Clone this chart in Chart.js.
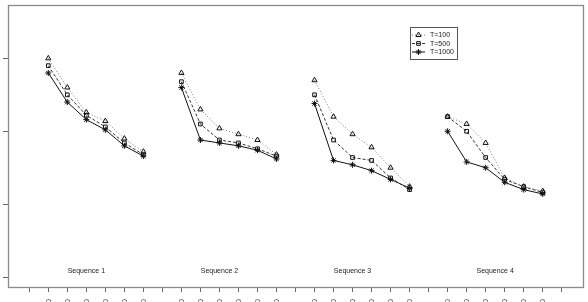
<!DOCTYPE html>
<html lang="en">
<head>
<meta charset="UTF-8">
<title>Sequences T=100 / 500 / 1000</title>
<script src="https://cdn.jsdelivr.net/npm/chart.js"></script>
<style>
  html, body { margin: 0; padding: 0; overflow: hidden; background: #fff; }
  #wrap { width: 588px; height: 320px; }
</style>
</head>
<body>
<div id="wrap"><canvas id="chart" width="588" height="320"></canvas></div>
<script>
// x positions 0..28, empty entries are the gaps between sequences
const categories = ["",
  "10", "20", "30", "40", "50", "60", "",
  "10", "20", "30", "40", "50", "60", "",
  "10", "20", "30", "40", "50", "60", "",
  "10", "20", "30", "40", "50", "60", ""];

const seqLabels = ["Sequence 1", "Sequence 2", "Sequence 3", "Sequence 4"];
const seqCentres = [3, 10, 17, 24.5];
const yTicks = [0, 0.5, 1, 1.5];

const t100 = [null,
  1.50, 1.30, 1.13, 1.07, 0.95, 0.86, null,
  1.40, 1.15, 1.02, 0.98, 0.94, 0.84, null,
  1.35, 1.10, 0.98, 0.89, 0.75, 0.62, null,
  1.10, 1.05, 0.92, 0.68, 0.62, 0.59, null];
const t500 = [null,
  1.45, 1.25, 1.11, 1.03, 0.92, 0.84, null,
  1.34, 1.05, 0.94, 0.92, 0.88, 0.83, null,
  1.25, 0.94, 0.82, 0.80, 0.68, 0.60, null,
  1.10, 1.00, 0.82, 0.67, 0.62, 0.58, null];
const t1000 = [null,
  1.40, 1.20, 1.08, 1.01, 0.90, 0.83, null,
  1.30, 0.94, 0.92, 0.90, 0.87, 0.81, null,
  1.19, 0.80, 0.77, 0.73, 0.67, 0.61, null,
  1.00, 0.79, 0.75, 0.65, 0.60, 0.57, null];

const toPoints = (arr) => arr.map((v, i) => ({ x: i, y: v }));

const makeSet = (label, values, dash, style, radius, lineColor) => ({
  label: label,
  data: toPoints(values),
  borderColor: lineColor,
  borderWidth: 1,
  borderDash: dash,
  pointStyle: style,
  pointRadius: radius,
  pointBorderColor: "#111",
  pointBackgroundColor: "rgba(0,0,0,0)",
  pointBorderWidth: 1,
  fill: false,
  spanGaps: false,
  tension: 0
});

// frame, sequence captions and the boxed legend
const extras = {
  id: "extras",
  afterDraw(chart) {
    const ctx = chart.ctx;
    const a = chart.chartArea;
    const xs = chart.scales.x, ys = chart.scales.y;
    ctx.save();
    ctx.strokeStyle = "#8a8a8a";
    ctx.lineWidth = 1.3;
    ctx.strokeRect(Math.round(a.left) + 0.5, Math.round(a.top) + 0.5,
                   Math.round(a.right - a.left), Math.round(a.bottom - a.top));
    ctx.lineWidth = 1;

    ctx.fillStyle = "#222";
    ctx.font = "7px 'Liberation Sans', Arial, sans-serif";
    ctx.textAlign = "center";
    ctx.textBaseline = "middle";
    seqLabels.forEach((s, i) => {
      ctx.fillText(s, xs.getPixelForValue(seqCentres[i]), ys.getPixelForValue(0.04));
    });

    // legend
    ctx.strokeStyle = "#555";
    ctx.strokeRect(410.5, 27.5, 47, 32);
    ctx.textAlign = "left";
    chart.data.datasets.forEach((ds, i) => {
      const y = 35 + i * 8.5;
      ctx.strokeStyle = ds.borderColor;
      ctx.setLineDash(ds.borderDash);
      ctx.beginPath();
      ctx.moveTo(412, y);
      ctx.lineTo(425, y);
      ctx.stroke();
      ctx.setLineDash([]);
      ctx.strokeStyle = "#111";
      ctx.fillStyle = "rgba(0,0,0,0)";
      Chart.helpers.drawPoint(ctx, {
        pointStyle: ds.pointStyle,
        radius: ds.pointRadius,
        rotation: 0,
        borderWidth: 1
      }, 418.5, y);
      ctx.fillStyle = "#222";
      ctx.fillText(ds.label, 430, y + 0.5);
    });
    ctx.restore();
  }
};

new Chart(document.getElementById("chart"), {
  type: "line",
  data: {
    datasets: [
      makeSet("T=100", t100, [1, 2], "triangle", 3, "#777"),
      makeSet("T=500", t500, [3, 2], "rect", 2.6, "#333"),
      makeSet("T=1000", t1000, [], "star", 3, "#111")
    ]
  },
  options: {
    responsive: false,
    animation: false,
    layout: { padding: { left: 3, top: 2, right: 4, bottom: 0 } },
    plugins: {
      legend: { display: false },
      tooltip: { enabled: false }
    },
    scales: {
      x: {
        type: "linear",
        min: -1.12,
        max: 29.12,
        afterBuildTicks: (s) => { s.ticks = categories.map((_, i) => ({ value: i })); },
        afterFit: (s) => { s.height = 33; },
        border: { display: false },
        grid: { drawOnChartArea: false, drawTicks: true, tickLength: 5, tickColor: "#666" },
        ticks: {
          autoSkip: false,
          minRotation: 90,
          maxRotation: 90,
          padding: 7,
          color: "#555",
          font: { family: "'Liberation Sans', Arial, sans-serif", size: 8 },
          callback: (v) => categories[v]
        }
      },
      y: {
        type: "linear",
        min: -0.068,
        max: 1.866,
        afterBuildTicks: (s) => { s.ticks = yTicks.map((v) => ({ value: v })); },
        afterFit: (s) => { s.width = 5; },
        border: { display: false },
        grid: { drawOnChartArea: false, drawTicks: true, tickLength: 5, tickColor: "#666" },
        ticks: { display: false }
      }
    }
  },
  plugins: [extras]
});
</script>
</body>
</html>
